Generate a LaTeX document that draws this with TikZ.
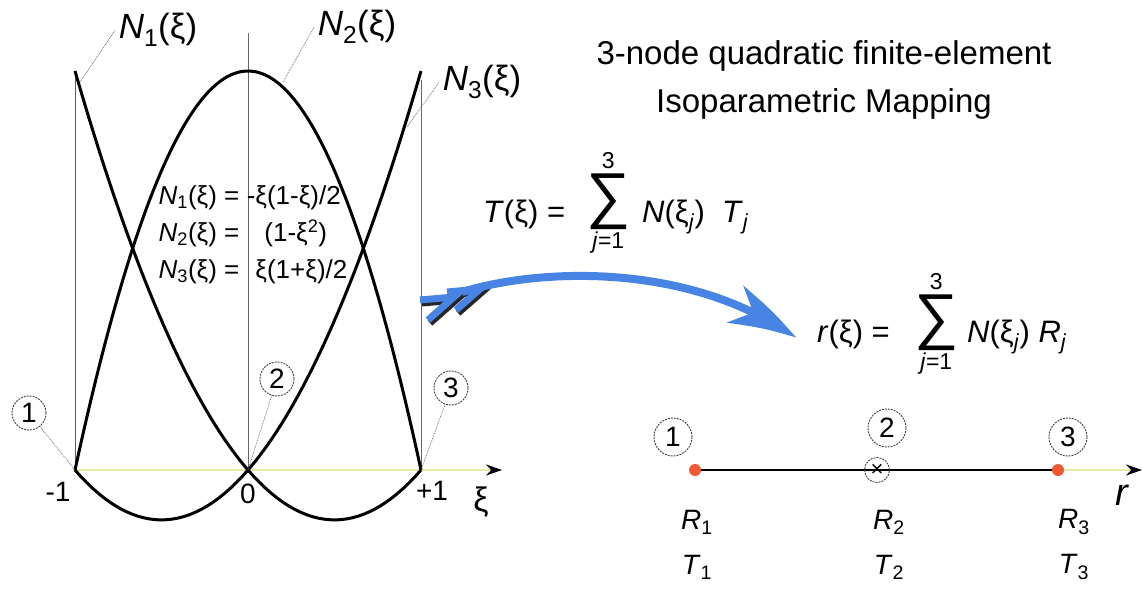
\documentclass[tikz,border=0pt]{standalone}
\usepackage{fontspec}
\setmainfont{Liberation Sans}
\usetikzlibrary{arrows.meta,bending,positioning}
\definecolor{arrowblue}{RGB}{72,132,228}
\definecolor{axisyellow}{RGB}{232,232,160}
\definecolor{dotred}{RGB}{238,88,52}
\newcommand{\fs}[1]{\fontsize{#1}{#1}\selectfont}
\newcommand{\Nxi}[1]{\textit{N}\textsubscript{#1}(ξ)}

\begin{document}
\begin{tikzpicture}[x=1pt,y=-1pt,
  vline/.style={line width=1pt},
  curve/.style={line width=3pt,line join=round},
  leader/.style={black!55,line width=0.8pt,densely dotted},
  axisline/.style={axisyellow,line width=1.3pt,-{Stealth[length=16pt,width=11pt,color=black]}},
  circnum/.style={circle,draw=black!75,line width=0.9pt,dash pattern=on 2pt off 1pt,minimum size=34pt,inner sep=0pt,font=\fs{28}},
  rdot/.style={circle,fill=dotred,minimum size=12pt,inner sep=0pt},
  bluearrow/.style={arrowblue,line width=8pt,-{Stealth[length=70pt,width=40pt,inset=20pt,bend]}},
  feather/.style={line width=7pt,line join=miter},
  formula/.style={anchor=base west,inner sep=0pt,font=\fs{31}},
  sigma/.style={anchor=base west,inner sep=0pt,font=\fs{62}},
  limit/.style={inner sep=1pt,font=\fs{23}}]
\useasboundingbox (0,0) rectangle (1143,589);

% left graph: axis and node positions
\coordinate (xm) at (75,470);
\coordinate (x0) at (248,470);
\coordinate (xp) at (421,470);
\draw[axisline] (xm) -- (502,470);
\draw[vline,blue!35!gray] (75,71) -- (xm);
\draw[vline,black!60] (248,33) -- (x0);
\draw[vline,black!60] (421,80) -- (xp);

% shape functions
\begin{scope}[shift={(248pt,-470pt)},x=173pt,y=399pt,curve]
\draw plot[domain=-1:1,samples=80,smooth] (\x,{\x*(\x-1)/2});
\draw plot[domain=-1:1,samples=80,smooth] (\x,{1-\x*\x});
\draw plot[domain=-1:1,samples=80,smooth] (\x,{\x*(\x+1)/2});
\end{scope}

% curve labels
\node (lN1) at (158,30) {\fs{35}\Nxi{1}};
\node (lN2) at (357,27) {\fs{35}\Nxi{2}};
\node (lN3) at (482,82) {\fs{35}\Nxi{3}};
\coordinate (pN1) at (80,82);
\coordinate (pN2) at (283,82);
\coordinate (pN3) at (407,127);
\draw[leader] (pN1) -- (lN1.west);
\draw[leader] (pN2) -- (lN2.west);
\draw[leader] (pN3) -- (lN3.west);

\node[font=\fontsize{26}{37}\selectfont] (shapefns) at (253,234) {%
\begin{tabular}{@{}l@{\hspace{16pt}}l@{}}
\Nxi{1} = & \llap{-}ξ(1-ξ)/2\\
\Nxi{2} = & \hspace{9pt}(1-ξ\textsuperscript{2})\\
\Nxi{3} = & ξ(1+ξ)/2
\end{tabular}};

% ticks
\node[font=\fs{28}] (tm) at (58,492) {-1};
\node[font=\fs{28}] (t0) at (248,494) {0};
\node[font=\fs{28}] (tp) at (432,491) {+1};
\node[font=\fs{34}] (txi) at (481,502) {ξ};

% local node numbers
\node[circnum] (c1) at (29,413) {1};
\node[circnum] (c2) at (277,379) {2};
\node[circnum] (c3) at (451,388) {3};
\draw[leader] (c1) -- (xm);
\draw[leader] (c2) -- (x0);
\draw[leader] (c3) -- (xp);

% title
\node[align=center,font=\fontsize{33}{48}\selectfont] (title) at (824,80)
  {3-node quadratic finite-element\\Isoparametric Mapping};

% mapping formulas
\node[formula] (Tlhs) at (483,222) {\textit{T}(ξ) =};
\node[sigma] (Tsig) at (586,216) {∑};
\node[limit,above=3pt of Tsig] (Tup) {3};
\node[limit,below=1pt of Tsig] (Tlow) {\textit{j}=1};
\node[formula] (Trhs) at (642,222) {\textit{N}(ξ\textsubscript{\textit{j}})\ \ \textit{T}\textsubscript{\textit{j}}};

\node[formula] (rlhs) at (817,342) {\textit{r}(ξ) =};
\node[sigma] (rsig) at (914,337) {∑};
\node[limit,above=3pt of rsig] (rup) {3};
\node[limit,below=1pt of rsig] (rlow) {\textit{j}=1};
\node[formula] (rrhs) at (967,342) {\textit{N}(ξ\textsubscript{\textit{j}}) \textit{R}\textsubscript{\textit{j}}};

% blue mapping arrow
\coordinate (atail) at (462,292);
\coordinate (ahead) at (796,338);
\draw[feather,black!85] (422,303) -- (456,300) -- (430,323);
\draw[feather,black!85] (449,295) -- (482,292) -- (458,313);
\draw[feather,arrowblue] (420,300) -- (454,297) -- (428,320);
\draw[feather,arrowblue] (447,292) -- (480,289) -- (456,310);
\draw[bluearrow] (atail) .. controls (540,268) and (690,262) .. (ahead);

% physical element
\coordinate (r1) at (695,470);
\coordinate (r2) at (877,470);
\coordinate (r3) at (1058,470);
\draw[axisline] (r3) -- (1142,470);
\draw[line width=2.2pt] (r1) -- (r2);
\draw[line width=1.4pt] (r2) -- (r3);
\node[circle,draw=black!75,line width=0.9pt,dash pattern=on 2pt off 1pt,minimum size=25pt,inner sep=0pt,font=\fs{22}] (m2) at (r2) {×};
\node[rdot] (d1) at (r1) {};
\node[rdot] (d3) at (r3) {};
\node[circnum,minimum size=38pt] (k1) at (673,437) {1};
\node[circnum,minimum size=38pt] (k2) at (887,428) {2};
\node[circnum,minimum size=38pt] (k3) at (1068,437) {3};
\node[font=\fs{38}] (rlab) at (1122,495) {\textit{r}};

\node[font=\fs{28}] (R1) at (697,522) {\textit{R}\textsubscript{1}};
\node[font=\fs{28}] (R2) at (889,522) {\textit{R}\textsubscript{2}};
\node[font=\fs{28}] (R3) at (1074,522) {\textit{R}\textsubscript{3}};
\node[font=\fs{28}] (T1) at (697,567) {\textit{T}\textsubscript{1}};
\node[font=\fs{28}] (T2) at (889,567) {\textit{T}\textsubscript{2}};
\node[font=\fs{28}] (T3) at (1074,567) {\textit{T}\textsubscript{3}};
\end{tikzpicture}
\end{document}
